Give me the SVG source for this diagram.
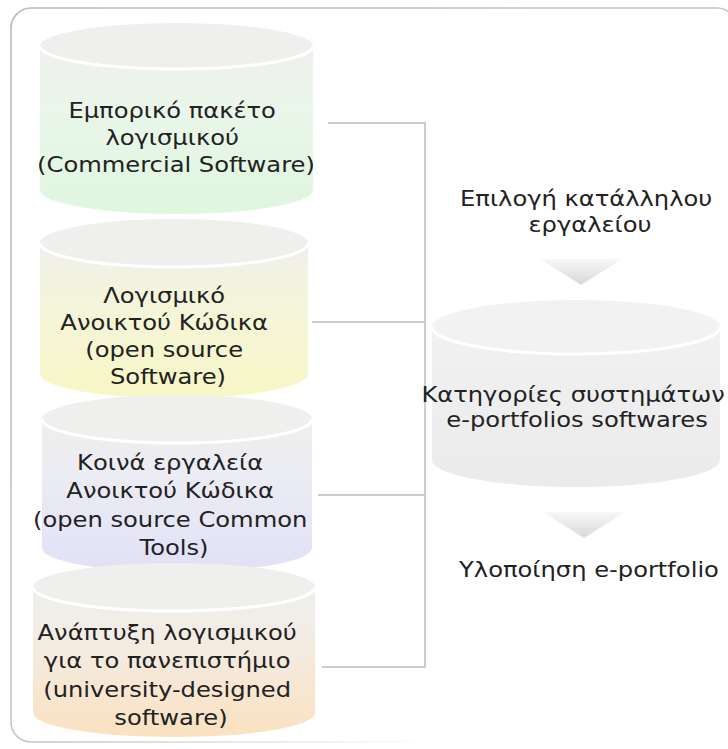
<svg xmlns="http://www.w3.org/2000/svg" width="728" height="749" viewBox="0 0 728 749">
  <defs>
    <style>
      .t { font-family: "DejaVu Sans", "Liberation Sans", sans-serif; font-size: 22px; fill: #222; text-anchor: middle; }
      .top { fill: #efefed; }
      .rim { fill: none; stroke: #ffffff; stroke-width: 3; }
      .wire { fill: none; stroke: #cdcdcd; stroke-width: 2; }
      .arrow { fill: url(#gArrow); }
    </style>
    <linearGradient id="gFrame" gradientUnits="userSpaceOnUse" x1="0" y1="0" x2="728" y2="749">
      <stop offset="0" stop-color="#b9b9b9"/>
      <stop offset="0.55" stop-color="#c6c6c6"/>
      <stop offset="0.8" stop-color="#ffffff"/>
    </linearGradient>
    <linearGradient id="gGreen" x1="0" y1="0" x2="0" y2="1">
      <stop offset="0" stop-color="#efefec"/>
      <stop offset="0.35" stop-color="#eaf6ea"/>
      <stop offset="1" stop-color="#dff6df"/>
    </linearGradient>
    <linearGradient id="gYellow" x1="0" y1="0" x2="0" y2="1">
      <stop offset="0" stop-color="#efefec"/>
      <stop offset="0.35" stop-color="#f4f4dc"/>
      <stop offset="1" stop-color="#f7f7c6"/>
    </linearGradient>
    <linearGradient id="gViolet" x1="0" y1="0" x2="0" y2="1">
      <stop offset="0" stop-color="#efefec"/>
      <stop offset="0.35" stop-color="#ececf4"/>
      <stop offset="1" stop-color="#e1e1f7"/>
    </linearGradient>
    <linearGradient id="gPeach" x1="0" y1="0" x2="0" y2="1">
      <stop offset="0" stop-color="#efefec"/>
      <stop offset="0.35" stop-color="#f3ece4"/>
      <stop offset="1" stop-color="#fbe1c0"/>
    </linearGradient>
    <linearGradient id="gGray" x1="0" y1="0" x2="0" y2="1">
      <stop offset="0" stop-color="#f1f1f1"/>
      <stop offset="1" stop-color="#ebebeb"/>
    </linearGradient>
    <linearGradient id="gArrow" x1="0" y1="0" x2="0" y2="1">
      <stop offset="0" stop-color="#f8f8f8"/>
      <stop offset="1" stop-color="#d8d8d8"/>
    </linearGradient>
  </defs>

  <!-- outer frame -->
  <rect x="11" y="8" width="726" height="734" rx="20" fill="#ffffff" stroke="url(#gFrame)" stroke-width="1.6"/>

  <!-- bracket joining the software types -->
  <g id="connectors">
    <path class="wire" d="M328 123 H425 V667 H322"/>
    <path class="wire" d="M312 322 H425"/>
    <path class="wire" d="M318 495 H425"/>
  </g>

  <!-- commercial software -->
  <g id="commercial">
    <path d="M40 46 V190 A136.5 24 0 0 0 313 190 V46 Z" fill="url(#gGreen)"/>
    <ellipse class="top" cx="176.5" cy="46" rx="136.5" ry="23"/>
    <path class="rim" d="M40 46 A136.5 23 0 0 0 313 46"/>
    <text class="t" transform="matrix(1.1 0 0 1 176 118)">
      <tspan x="0" y="0">Εμπορικό πακέτο</tspan>
      <tspan x="0" y="27">λογισμικού</tspan>
      <tspan x="0" y="54">(Commercial Software)</tspan>
    </text>
  </g>

  <!-- open source software -->
  <g id="open-source">
    <path d="M40 243 V374 A134 24 0 0 0 308 374 V243 Z" fill="url(#gYellow)"/>
    <ellipse class="top" cx="174" cy="243" rx="134" ry="24"/>
    <path class="rim" d="M40 243 A134 24 0 0 0 308 243"/>
    <text class="t" transform="matrix(1.1 0 0 1 168 303)">
      <tspan x="0" y="0">Λογισμικό</tspan>
      <tspan x="0" y="27">Ανοικτού Κώδικα</tspan>
      <tspan x="0" y="54">(open source</tspan>
      <tspan x="0" y="81">Software)</tspan>
    </text>
  </g>

  <!-- open source common tools -->
  <g id="common-tools">
    <path d="M42 419 V548 A135 24 0 0 0 312 548 V419 Z" fill="url(#gViolet)"/>
    <ellipse class="top" cx="177" cy="419" rx="135" ry="24"/>
    <path class="rim" d="M42 419 A135 24 0 0 0 312 419"/>
    <text class="t" transform="matrix(1.1 0 0 1 174 470)">
      <tspan x="0" y="0">Κοινά εργαλεία</tspan>
      <tspan x="0" y="28">Ανοικτού Κώδικα</tspan>
      <tspan x="0" y="57">(open source Common</tspan>
      <tspan x="0" y="85">Tools)</tspan>
    </text>
  </g>

  <!-- university-designed software -->
  <g id="university">
    <path d="M33 587 V713 A141 24 0 0 0 315 713 V587 Z" fill="url(#gPeach)"/>
    <ellipse class="top" cx="174" cy="587" rx="141" ry="24"/>
    <path class="rim" d="M33 587 A141 24 0 0 0 315 587"/>
    <text class="t" transform="matrix(1.1 0 0 1 171 640)">
      <tspan x="0" y="0">Ανάπτυξη λογισμικού</tspan>
      <tspan x="0" y="28">για το πανεπιστήμιο</tspan>
      <tspan x="0" y="57">(university-designed</tspan>
      <tspan x="0" y="85">software)</tspan>
    </text>
  </g>

  <!-- choose the tool -->
  <g id="choose-tool">
    <text class="t" transform="matrix(1.1 0 0 1 590 206)">
      <tspan x="0" y="0">Επιλογή κατάλληλου</tspan>
      <tspan x="0" y="26">εργαλείου</tspan>
    </text>
    <polygon class="arrow" points="540,259 622,259 581,285"/>
  </g>

  <!-- e-portfolio system categories -->
  <g id="categories">
    <path d="M432 327 V460 A144 27 0 0 0 720 460 V327 Z" fill="url(#gGray)"/>
    <ellipse cx="576" cy="327" rx="144" ry="27" fill="#f2f2f2"/>
    <path class="rim" d="M432 327 A144 27 0 0 0 720 327"/>
    <text class="t" transform="matrix(1.1 0 0 1 577 402)">
      <tspan x="0" y="0">Κατηγορίες συστημάτων</tspan>
      <tspan x="0" y="25">e-portfolios softwares</tspan>
    </text>
  </g>

  <!-- implementation -->
  <g id="implementation">
    <polygon class="arrow" points="543,512 625,512 584,538"/>
    <text class="t" transform="matrix(1.1 0 0 1 589 577)">Υλοποίηση e-portfolio</text>
  </g>
</svg>
